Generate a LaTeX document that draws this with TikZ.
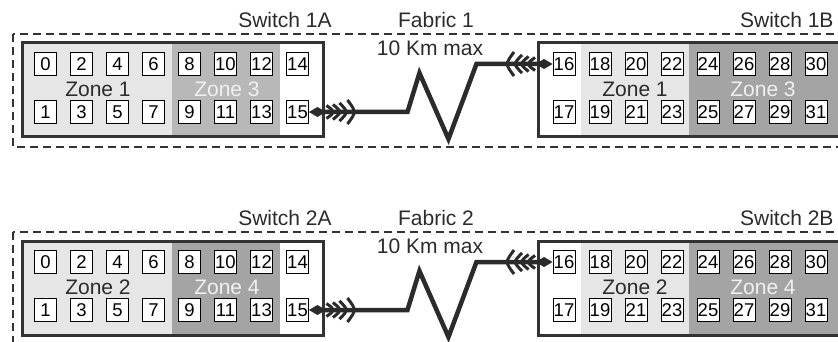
\documentclass[tikz,border=0pt]{standalone}
\usepackage{fontspec}
\setmainfont{Liberation Sans}

\definecolor{ink}{HTML}{2B2B2B}
\definecolor{frameline}{HTML}{333333}
\definecolor{zonelight}{HTML}{E6E6E6}
\definecolor{zonemid}{HTML}{B8B8B8}
\definecolor{zonedark}{HTML}{A4A4A4}

\tikzstyle{switch} = [
    rectangle,
    minimum width=301pt,
    minimum height=94pt,
    line width=3pt,
    draw=frameline
]
\tikzstyle{port} = [
    rectangle,
    minimum width=22pt,
    minimum height=23pt,
    inner sep=0.5pt,
    line width=0.9pt,
    draw=black,
    fill=white,
    font=\fontsize{18.5}{20}\selectfont
]
\tikzstyle{caption} = [font=\fontsize{21}{25}\selectfont, text=ink]
\tikzstyle{fabric} = [dash pattern=on 8pt off 5pt, line width=2pt, draw=frameline]
\tikzstyle{fibre} = [line width=4.5pt, draw=ink, line join=miter, shorten <=14pt, shorten >=14pt]
\tikzset{
    plug/.pic={
        \fill[ink] (0,0) -- (8.5,-5) -- (17,0) -- (8.5,5) -- cycle;
        \foreach \x/\h in {22/6.5, 28.5/7.5, 35/9, 43/12}
            \draw[ink, line width=3pt] (\x-4.5,-\h) .. controls (\x+4.5,0) .. (\x-4.5,\h);
    }
}

\begin{document}
\begin{tikzpicture}[x=1pt, y=-1pt]

\clip (0,0) rectangle (838,342);
\fill[white] (0,0) rectangle (838,342);

\foreach \g/\dy/\za/\zb/\zA/\zB in {1/0/1/3/zonemid/zonedark, 2/198/2/4/zonedark/zonedark} {
\begin{scope}[shift={(0,\dy)}]

% fabric frame and titles
\draw[fabric] (13,34) rectangle (850,147);
\node (title\g A) [caption] at (285,20) {Switch \g A};
\node (fab\g) [caption] at (436,20) {Fabric \g};
\node (dist\g) [caption] at (430,48) {10 Km max};
\node (title\g B) [caption, anchor=east] at (837,20) {Switch \g B};

% zones
\fill[zonelight] (22,43) rectangle (172,137);
\fill[\zA] (172,43) rectangle (280,137);
\fill[zonelight] (581,43) rectangle (689,137);
\fill[\zB] (689,43) rectangle (850,137);

\node (sw\g A) [switch] at (172.5,90) {};
\node (sw\g B) [switch] at (689,90) {};

\node (zone\g a) [caption] at (98,89.5) {Zone \za};
\node (zone\g b) [caption, text=white!94!black] at (227,89.5) {Zone \zb};
\node (zone\g c) [caption] at (635,89.5) {Zone \za};
\node (zone\g d) [caption, text=white!94!black] at (763,89.5) {Zone \zb};

% ports
\foreach \k in {0,...,7} {
    \pgfmathtruncatemacro\pn{2*\k}
    \node (pt\g-\pn) [port] at (45.5+36*\k,64) {\pn};
    \pgfmathtruncatemacro\pn{2*\k+1}
    \node (pt\g-\pn) [port] at (45.5+36*\k,112) {\pn};
    \pgfmathtruncatemacro\pn{2*\k+16}
    \node (pt\g-\pn) [port] at (564+36*\k,64) {\pn};
    \pgfmathtruncatemacro\pn{2*\k+17}
    \node (pt\g-\pn) [port] at (564+36*\k,112) {\pn};
}

% long distance link
\draw[fibre] (pt\g-15.east) -- ++(98.5,0) -- ++(12,-39) -- ++(29,66)
    -- ++(28,-75) -- (pt\g-16.west);
\pic at (pt\g-15.east) {plug};
\pic[xscale=-1] at (pt\g-16.west) {plug};

\end{scope}
}

\end{tikzpicture}
\end{document}
